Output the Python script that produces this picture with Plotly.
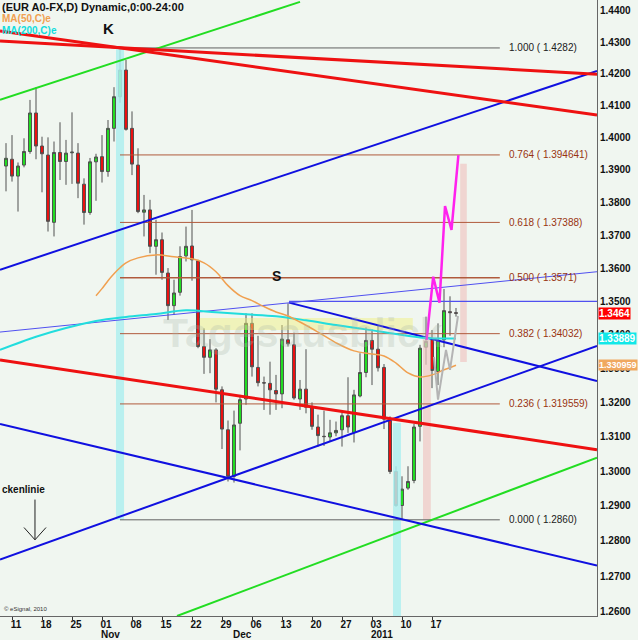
import math
import pandas as pd
import plotly.graph_objects as go

# ---------------- data ----------------
dates = pd.bdate_range("2010-10-08", "2011-01-21")

opens = [1.3912, 1.3933, 1.3881, 1.3915, 1.3957, 1.4077, 1.3974, 1.3946, 1.3739, 1.3954,
         1.3926, 1.3953, 1.3952, 1.3856, 1.3769, 1.3925, 1.3941, 1.3895, 1.4029, 1.4128,
         1.4212, 1.4029, 1.3915, 1.3770, 1.3777, 1.3666, 1.3686, 1.3585, 1.3487, 1.3527,
         1.3637, 1.3667, 1.3622, 1.3365, 1.3333, 1.3355, 1.3237, 1.3120, 1.2985, 1.3139,
         1.3210, 1.3434, 1.3303, 1.3258, 1.3256, 1.3235, 1.3225, 1.3385, 1.3370, 1.3210,
         1.3239, 1.3186, 1.3128, 1.3101, 1.3099, 1.3111, 1.3120, 1.3161, 1.3112, 1.3219,
         1.3288, 1.3383, 1.3357, 1.3303, 1.3147, 1.2999, 1.2901, 1.2951, 1.2973, 1.3130,
         1.3363, 1.3385, 1.3291, 1.3385, 1.3469, 1.3466]
highs = [1.3983, 1.4008, 1.3923, 1.3998, 1.4118, 1.4158, 1.4003, 1.4001, 1.3988, 1.4048,
         1.3993, 1.4079, 1.3983, 1.3874, 1.3937, 1.3950, 1.4008, 1.4055, 1.4158, 1.4282,
         1.4244, 1.4082, 1.3967, 1.3823, 1.3808, 1.3747, 1.3708, 1.3600, 1.3565, 1.3666,
         1.3726, 1.3777, 1.3625, 1.3419, 1.3387, 1.3360, 1.3247, 1.3147, 1.3176, 1.3222,
         1.3464, 1.3464, 1.3397, 1.3276, 1.3320, 1.3281, 1.3429, 1.3494, 1.3406, 1.3266,
         1.3357, 1.3200, 1.3164, 1.3176, 1.3149, 1.3144, 1.3170, 1.3274, 1.3237, 1.3345,
         1.3422, 1.3416, 1.3426, 1.3313, 1.3159, 1.3014, 1.2985, 1.3014, 1.3137, 1.3370,
         1.3454, 1.3414, 1.3434, 1.3537, 1.3515, 1.3480]
lows = [1.3834, 1.3864, 1.3772, 1.3908, 1.3950, 1.3933, 1.3831, 1.3711, 1.3696, 1.3869,
        1.3854, 1.3857, 1.3813, 1.3732, 1.3762, 1.3805, 1.3861, 1.3879, 1.3988, 1.4109,
        1.4022, 1.3884, 1.3767, 1.3696, 1.3645, 1.3580, 1.3565, 1.3444, 1.3459, 1.3517,
        1.3620, 1.3562, 1.3360, 1.3284, 1.3286, 1.3200, 1.3064, 1.2970, 1.2967, 1.3060,
        1.3193, 1.3276, 1.3247, 1.3178, 1.3164, 1.3178, 1.3183, 1.3365, 1.3208, 1.3178,
        1.3168, 1.3120, 1.3071, 1.3073, 1.3086, 1.3101, 1.3071, 1.3111, 1.3083, 1.3215,
        1.3274, 1.3251, 1.3291, 1.3122, 1.2992, 1.2897, 1.2860, 1.2946, 1.2965, 1.3086,
        1.3311, 1.3242, 1.3251, 1.3363, 1.3397, 1.3454]
closes = [1.3936, 1.3881, 1.3912, 1.3957, 1.4077, 1.3974, 1.3950, 1.3742, 1.3954, 1.3926,
          1.3952, 1.3955, 1.3859, 1.3769, 1.3925, 1.3940, 1.3895, 1.4029, 1.4128, 1.4212,
          1.4026, 1.3918, 1.3772, 1.3777, 1.3666, 1.3686, 1.3587, 1.3487, 1.3525, 1.3635,
          1.3666, 1.3625, 1.3365, 1.3333, 1.3355, 1.3239, 1.3122, 1.2985, 1.3134, 1.3208,
          1.3434, 1.3305, 1.3258, 1.3257, 1.3237, 1.3225, 1.3387, 1.3373, 1.3213, 1.3239,
          1.3186, 1.3130, 1.3103, 1.3100, 1.3111, 1.3118, 1.3161, 1.3128, 1.3222, 1.3288,
          1.3383, 1.3357, 1.3302, 1.3151, 1.2999, 1.2901, 1.2948, 1.2970, 1.3128, 1.3360,
          1.3380, 1.3294, 1.3383, 1.3472, 1.3466, 1.3464]

# moving averages (bar index, value)
ma200_idx = [-1, 5, 10, 15, 20, 25, 30, 35, 40, 45, 50, 55, 60, 65, 70, 75]
ma200_val = [1.3355, 1.3394, 1.3420, 1.3441, 1.3453, 1.3462, 1.3473, 1.3467, 1.3461, 1.3455,
             1.3443, 1.3429, 1.3416, 1.3402, 1.3390, 1.33889]
ma50_idx = [15, 16, 17, 18, 19, 20, 22, 25, 28, 31, 33, 35, 37, 39, 41, 43, 45, 47, 49, 52,
            55, 58, 61, 63, 65, 67, 69, 71, 73, 75]
ma50_val = [1.3517, 1.3538, 1.3562, 1.3583, 1.3601, 1.3616, 1.3631, 1.3640, 1.3634, 1.3628,
            1.3616, 1.3589, 1.3547, 1.3517, 1.3502, 1.3484, 1.3468, 1.3456, 1.3438, 1.3408,
            1.3376, 1.3352, 1.3343, 1.3337, 1.3316, 1.3287, 1.3275, 1.3281, 1.3296, 1.330959]

# trend lines: ([bar index start, end], [price start, end])
red_line_a = ([-1, 98.5], [1.4304, 1.4199])
red_line_b = ([-1, 98.5], [1.4336, 1.4071])
red_line_low = ([-1, 98.5], [1.3325, 1.3062])
blue_upper = ([-1, 98.5], [1.3595, 1.4209])
blue_rising = ([-1, 98.5], [1.2747, 1.3367])
blue_falling = ([-1, 98.5], [1.3137, 1.2730])
blue_s_falling = ([47.17, 98.5], [1.3496, 1.3263])
thin_blue_rising = ([-1, 98.5], [1.3408, 1.3589])
thin_blue_flat = ([47.17, 98.5], [1.3500, 1.3500])
green_upper = ([-1, 49.0], [1.4118, 1.4429])
green_lower = ([28.5, 98.5], [1.2588, 1.3039])

# projections
magenta_idx = [70.1, 71.2, 72.25, 73.17, 74.25, 75.4]
magenta_val = [1.3385, 1.3574, 1.3496, 1.3789, 1.3716, 1.3946]
grey_idx = [71.33, 72.0, 73.33, 74.0, 75.33]
grey_val = [1.3334, 1.3208, 1.3355, 1.3296, 1.3456]

# fibonacci retracement
fib_ratio_txt = ["1.000", "0.764", "0.618", "0.500", "0.382", "0.236", "0.000"]
fib_prices = [1.4282, 1.394641, 1.37388, 1.3571, 1.34032, 1.319559, 1.2860]
fib_price_txt = ["1.4282", "1.394641", "1.37388", "1.3571", "1.34032", "1.319559", "1.2860"]
fib_start, fib_end = 19, 82.3

# highlighted vertical bands (idx from, idx to, price low, price high)
cyan_bands = [(18.33, 19.67, 1.2860, 1.4282), (64.5, 65.83, 1.2588, 1.3140)]
pink_bands = [(69.5, 70.8, 1.2860, 1.3385), (75.7, 76.8, 1.3319, 1.3919)]
yellow_band = (32.3, 67.8, 1.3414, 1.3450)

# y axis ticks and range
y_ticks = [1.26 + 0.01 * k for k in range(19)]
y_min, y_max = 1.2588, 1.4435

month_labels = ["Nov", "Dec", "2011"]
month_dates = ["2010-11-01", "2010-12-01", "2011-01-03"]

last_price = 1.3464
ma200_last = 1.33889
ma50_last = 1.330959

# ---------------- figure ----------------
xs = list(range(len(dates)))
date_pos = {d.strftime("%Y-%m-%d"): i for i, d in enumerate(dates)}
mondays = [i for i, d in enumerate(dates) if d.weekday() == 0]
monday_txt = [dates[i].strftime("%d") for i in mondays]

FONT = "Liberation Sans"
fig = go.Figure()


def band(x0, x1, p0, p1, color):
    fig.add_trace(go.Scatter(x=[x0, x1, x1, x0, x0], y=[p0, p0, p1, p1, p0], mode="lines",
                             fill="toself", fillcolor=color, line=dict(width=0),
                             hoverinfo="skip", showlegend=False))


for b in cyan_bands:
    band(*b, "rgba(175,238,238,0.85)")
for b in pink_bands:
    band(*b, "rgba(240,200,195,0.7)")
band(*yellow_band, "rgba(240,240,120,0.45)")

# fib lines
for r, p in zip(fib_ratio_txt, fib_prices):
    col = "#606060" if r in ("1.000", "0.000") else "#b05a3c"
    wid = 1.6 if r == "0.500" else 1
    fig.add_trace(go.Scatter(x=[fib_start, fib_end], y=[p, p], mode="lines",
                             line=dict(color=col, width=wid), hoverinfo="skip", showlegend=False))


def tline(data, color, width):
    fig.add_trace(go.Scatter(x=data[0], y=data[1], mode="lines", line=dict(color=color, width=width),
                             hoverinfo="skip", showlegend=False))


tline(green_upper, "#22dd22", 2)
tline(green_lower, "#22dd22", 2)
tline(blue_upper, "#1010e0", 2)
tline(blue_rising, "#1010e0", 2)
tline(blue_falling, "#1010e0", 2)
tline(blue_s_falling, "#1010e0", 2)
tline(thin_blue_rising, "#5050f0", 1)
tline(thin_blue_flat, "#5050f0", 1.3)
tline(red_line_a, "#ee1111", 3)
tline(red_line_b, "#ee1111", 3)
tline(red_line_low, "#ee1111", 3)

# moving averages
fig.add_trace(go.Scatter(x=ma200_idx, y=ma200_val, mode="lines", line=dict(color="#22dddd", width=2, shape="spline"),
                         hoverinfo="skip", showlegend=False))
fig.add_trace(go.Scatter(x=ma50_idx, y=ma50_val, mode="lines", line=dict(color="#f0a050", width=1.5, shape="spline"),
                         hoverinfo="skip", showlegend=False))

# candles
fig.add_trace(go.Candlestick(
    x=xs, open=opens, high=highs, low=lows, close=closes,
    increasing=dict(line=dict(color="#505050", width=1), fillcolor="#22e022"),
    decreasing=dict(line=dict(color="#505050", width=1), fillcolor="#ee1010"),
    whiskerwidth=0, showlegend=False, hoverinfo="skip"))

# projections
fig.add_trace(go.Scatter(x=grey_idx, y=grey_val, mode="lines", line=dict(color="#b4b4b4", width=2),
                         hoverinfo="skip", showlegend=False))
fig.add_trace(go.Scatter(x=magenta_idx, y=magenta_val, mode="lines", line=dict(color="#ff22ee", width=2.5),
                         hoverinfo="skip", showlegend=False))

# arrow for neckline note
arrow_x = [4.83, 4.83, None, 3.0, 4.83, 6.67]
arrow_y = [1.2918, 1.2803, None, 1.2838, 1.2803, 1.2838]
fig.add_trace(go.Scatter(x=arrow_x, y=arrow_y, mode="lines", line=dict(color="#202020", width=1),
                         hoverinfo="skip", showlegend=False))

ann = []
# fib labels
for r, p, t in zip(fib_ratio_txt, fib_prices, fib_price_txt):
    col = "#202020" if r in ("1.000", "0.000") else "#993311"
    ann.append(dict(x=fib_end + 1.2, y=math.log10(p), xref="x", yref="y", xanchor="left", yanchor="middle",
                    text=f"{r} ( {t})", showarrow=False, font=dict(family=FONT, size=10, color=col)))

# right-side value boxes
for val, txt, bg, fs in [(last_price, "1.3464", "#ff0000", 10), (ma200_last, "1.33889", "#11e8e8", 10),
                         (ma50_last, "1.330959", "#f0a860", 9)]:
    ann.append(dict(x=1, y=math.log10(val), xref="paper", yref="y", xanchor="left", yanchor="middle",
                    xshift=1, text=f"<b>{txt}</b>", showarrow=False, bgcolor=bg, borderpad=0,
                    font=dict(family=FONT, size=fs, color="white")))

# month labels
for m, d in zip(month_labels, month_dates):
    ann.append(dict(x=date_pos[d] - 0.3, y=0, xref="x", yref="paper", xanchor="left", yanchor="top",
                    yshift=-12, borderpad=0, text=f"<b>{m}</b>", showarrow=False,
                    font=dict(family=FONT, size=10, color="#111")))

# header texts
ann.append(dict(x=0, y=1, xref="paper", yref="paper", xanchor="left", yanchor="top", yshift=1,
                text="<b>(EUR A0-FX,D) Dynamic,0:00-24:00</b>", showarrow=False,
                font=dict(family=FONT, size=11, color="#111")))
ann.append(dict(x=0, y=1, xref="paper", yref="paper", xanchor="left", yanchor="top", yshift=-11,
                text="<b>MA(50,C)e</b>", showarrow=False, font=dict(family=FONT, size=10, color="#f0a050")))
ann.append(dict(x=0, y=1, xref="paper", yref="paper", xanchor="left", yanchor="top", yshift=-23,
                text="<b>MA(200,C)e</b>", showarrow=False, font=dict(family=FONT, size=10, color="#11dddd")))
ann.append(dict(x=17, y=math.log10(1.4345), xref="x", yref="y", text="<b>K</b>", showarrow=False,
                font=dict(family=FONT, size=15, color="#111")))
ann.append(dict(x=45, y=math.log10(1.3577), xref="x", yref="y", text="<b>S</b>", showarrow=False,
                font=dict(family=FONT, size=14, color="#111")))
ann.append(dict(x=0, y=math.log10(1.2946), xref="paper", yref="y", xanchor="left", text="<b>ckenlinie</b>",
                showarrow=False, font=dict(family=FONT, size=10, color="#111")))
ann.append(dict(x=0, y=0, xref="paper", yref="paper", xanchor="left", yanchor="bottom", xshift=2, yshift=2,
                text="© eSignal, 2010", showarrow=False, font=dict(family=FONT, size=6, color="#333")))
ann.append(dict(x=303 / 597, y=1 - 333 / 616, xref="paper", yref="paper", text="<b>Tagesausblick</b>",
                showarrow=False, font=dict(family=FONT, size=41, color="rgba(170,185,170,0.28)")))

fig.update_layout(
    width=638, height=640,
    margin=dict(l=0, r=41, t=0, b=24),
    paper_bgcolor="#f0f6f0", plot_bgcolor="#f0f6f0",
    showlegend=False,
    annotations=ann,
    xaxis=dict(range=[-1, 98.5], tickmode="array", tickvals=mondays, ticktext=[f"<b>{t}</b>" for t in monday_txt],
               ticks="outside", ticklen=3, tickcolor="#333", ticklabelshift=4, ticklabelstandoff=-4,
               showgrid=False, zeroline=False, showline=True, linecolor="#666", linewidth=1,
               rangeslider=dict(visible=False), tickfont=dict(family=FONT, size=10, color="#111")),
    yaxis=dict(type="log", range=[math.log10(y_min), math.log10(y_max)], side="right",
               tickmode="array", tickvals=y_ticks, ticktext=[f"<b>{v:.4f}</b>" for v in y_ticks],
               ticks="", showgrid=False, zeroline=False, showline=True, linecolor="#666", linewidth=1,
               tickfont=dict(family=FONT, size=10, color="#111"), mirror=False),
)

fig.write_html("out.html", config={"displayModeBar": False},
               post_script="document.body.style.margin='0';document.body.style.padding='0';"
                           "document.documentElement.style.overflow='hidden';")
